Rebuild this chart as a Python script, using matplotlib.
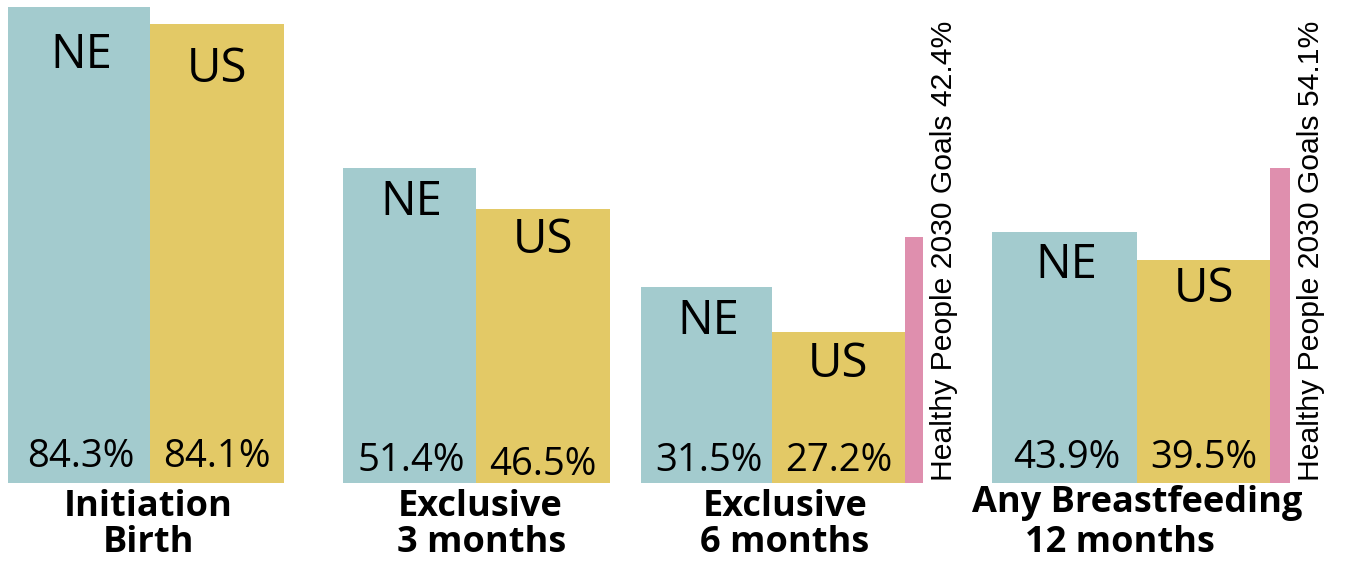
import matplotlib
matplotlib.use("Agg")
import matplotlib.pyplot as plt

# ---- data ----
categories = [["Initiation", "Birth"], ["Exclusive", "3 months"],
              ["Exclusive", "6 months"], ["Any Breastfeeding", "12 months"]]
ne_values = [84.3, 51.4, 31.5, 43.9]
us_values = [84.1, 46.5, 27.2, 39.5]
goal_values = [None, None, 42.4, 54.1]
# drawn bar heights as they appear in the picture (in % units)
ne_heights = [84.3, 55.8, 34.7, 44.4]
us_heights = [81.2, 48.5, 26.7, 39.5]
goal_heights = [None, None, 43.5, 55.8]

# ---- layout (pixel-like units) ----
group_left = [8, 343, 641, 992]
ne_w = [142, 133, 131, 145]
us_w = [134, 134, 133, 133]
goal_w = [0, 0, 18, 20]
cat_x = [148, 480, 785, 1137]
cat2_x = [148, 482, 785, 1120]
cat_base1 = [516, 516, 516, 512]
cat_base2 = [552, 552, 552, 552]
name_base_ne = [61, 47, 47, 46]   # px below bar top
name_base_us = [58, 44, 45, 42]
pct_base_ne = [16, 12, 12, 15]    # px above bar bottom
pct_base_us = [16, 8, 12, 15]

NE_C = "#A3CBCE"
US_C = "#E3C966"
GOAL_C = "#DF8FAE"
SC = 5.65  # px per %
BASE = 483

W, H = 1357, 562
fig = plt.figure(figsize=(W / 100, H / 100), dpi=100)
ax = fig.add_axes([0, 0, 1, 1])
ax.set_xlim(0, W)
ax.set_ylim(-(H - BASE) / SC, BASE / SC)
ax.axis("off")

f_main = ["Open Sans", "DejaVu Sans"]
f_v = ["Liberation Sans", "DejaVu Sans"]


def py(pix):
    return (BASE - pix) / SC


for i in range(4):
    x0 = group_left[i]
    ax.bar(x0, ne_heights[i], width=ne_w[i], align="edge", color=NE_C)
    x1 = x0 + ne_w[i]
    ax.bar(x1, us_heights[i], width=us_w[i], align="edge", color=US_C)
    cx_ne = x0 + ne_w[i] / 2 + 2
    cx_us = x1 + us_w[i] / 2
    ax.text(cx_ne, ne_heights[i] - name_base_ne[i] / SC, "NE", ha="center", va="baseline",
            fontsize=34, family=f_main)
    ax.text(cx_us, us_heights[i] - name_base_us[i] / SC, "US", ha="center", va="baseline",
            fontsize=34, family=f_main)
    ax.text(cx_ne, pct_base_ne[i] / SC, f"{ne_values[i]}%", ha="center", va="baseline",
            fontsize=27.5, family=f_main)
    ax.text(cx_us, pct_base_us[i] / SC, f"{us_values[i]}%", ha="center", va="baseline",
            fontsize=27.5, family=f_main)
    if goal_values[i] is not None:
        x2 = x1 + us_w[i]
        ax.bar(x2, goal_heights[i], width=goal_w[i], align="edge", color=GOAL_C)
        ax.text(x2 + goal_w[i] + 21, 2 / SC, f"Healthy People 2030 Goals {goal_values[i]}%",
                rotation=90, ha="center", va="bottom", fontsize=21.7, family=f_v)
    ax.text(cat_x[i], py(cat_base1[i]), categories[i][0], ha="center", va="baseline",
            fontsize=26, fontweight="bold", family=f_main)
    ax.text(cat2_x[i], py(cat_base2[i]), categories[i][1], ha="center", va="baseline",
            fontsize=26, fontweight="bold", family=f_main)

fig.savefig("out.png", dpi=100)
